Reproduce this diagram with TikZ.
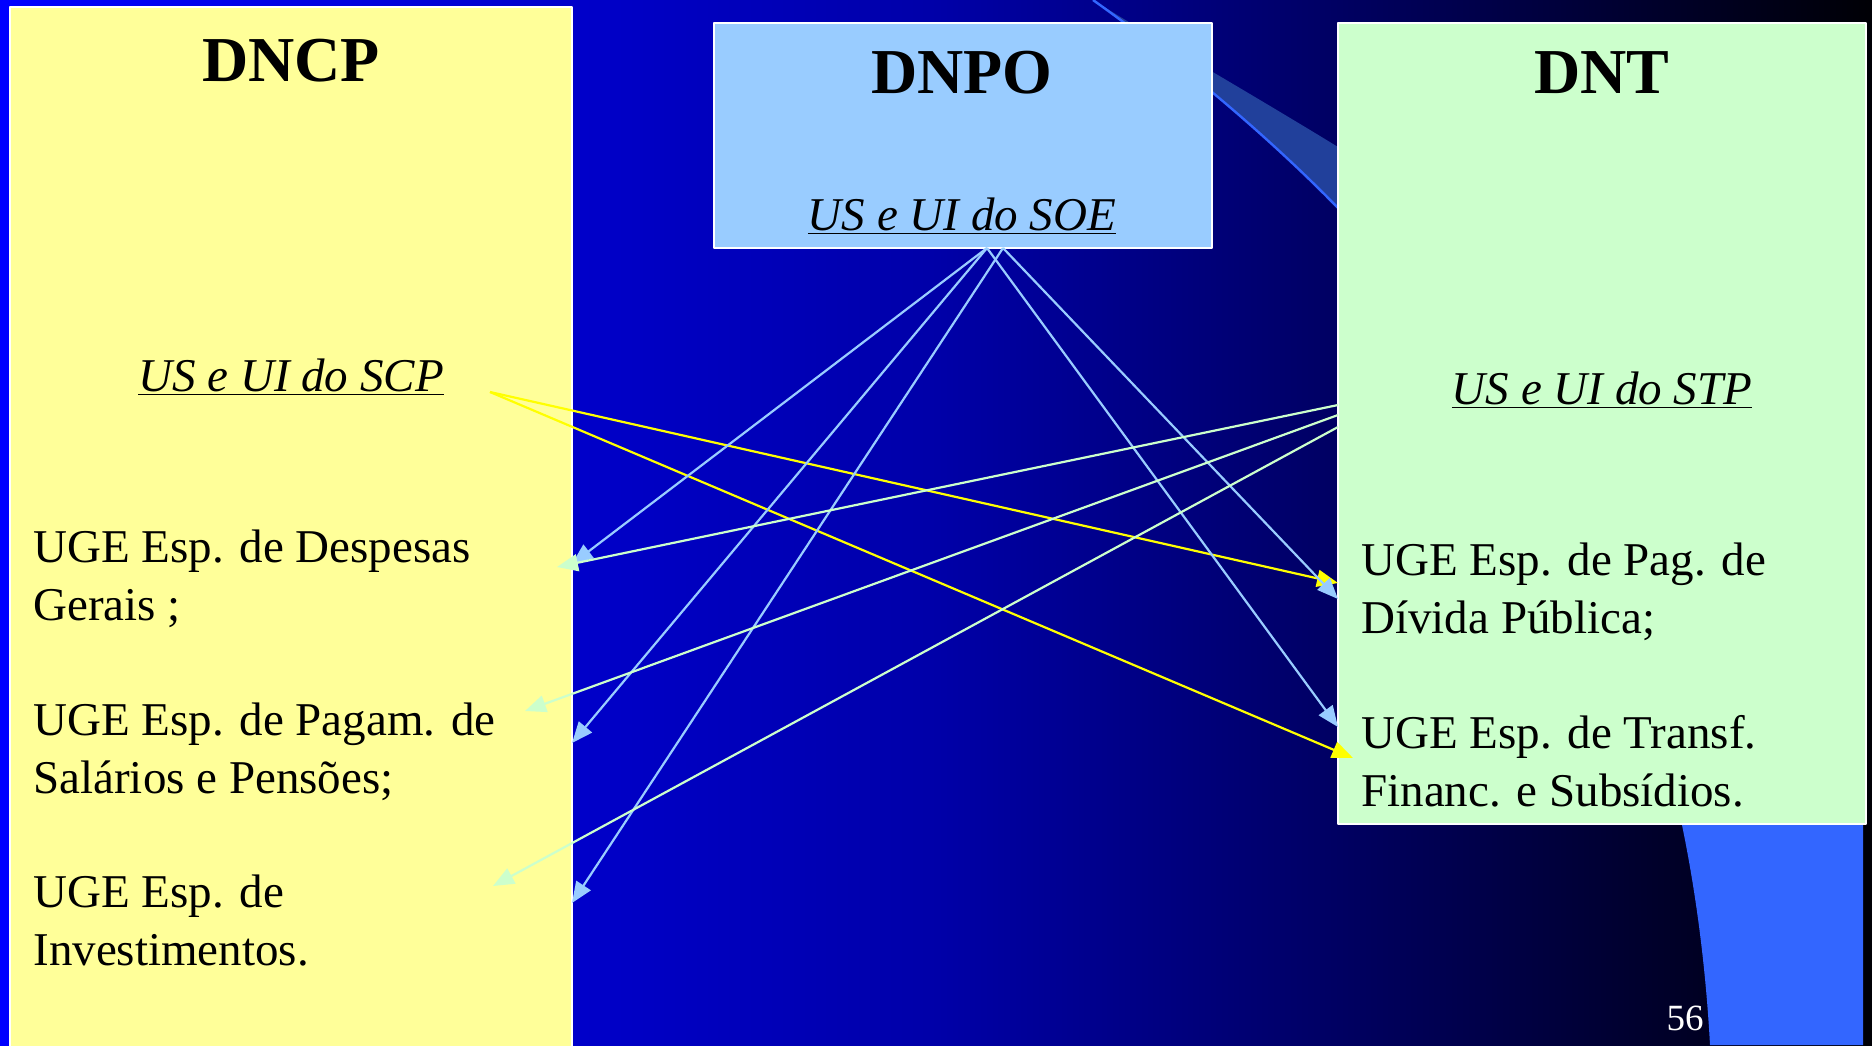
\documentclass[tikz,border=0pt]{standalone}
\usepackage{fontspec}
\setmainfont{Liberation Serif}
\usetikzlibrary{arrows.meta}

\definecolor{dncpfill}{HTML}{FFFF99}
\definecolor{dnpofill}{HTML}{99CCFF}
\definecolor{dntfill}{HTML}{CCFFCC}
\definecolor{scpflow}{HTML}{FFFF00}
\definecolor{soeflow}{HTML}{99CCFF}
\definecolor{stpflow}{HTML}{CCFFCC}
\definecolor{swoosh}{HTML}{3366FF}
\definecolor{swooshband}{HTML}{21409B}
\definecolor{bgleft}{rgb}{0,0,1}
\definecolor{bgmid}{rgb}{0,0,0.66}
\definecolor{bgright}{rgb}{0,0,0.02}

\tikzset{
  box/.style={draw=white, line width=1pt},
  title/.style={anchor=base, inner sep=0pt, font=\fontsize{32}{38}\selectfont\bfseries},
  sysname/.style={anchor=base, inner sep=0pt, font=\fontsize{23.5}{28.75}\selectfont\itshape},
  uge/.style={anchor=base west, inner sep=0pt, align=left, font=\fontsize{23.5}{28.75}\selectfont},
  flow/.style={line width=1.1pt, -{Triangle[length=10.5pt,width=8.5pt]}},
}

\begin{document}
\begin{tikzpicture}[x=0.5pt, y=-0.5pt, line join=round]
        % slide frame, in pixels, y pointing down
        \useasboundingbox (0,0) rectangle (1872,1045);
        \shade[left color=bgleft, right color=bgright, middle color=bgmid] (0,0) rectangle (1872,1045);

        % decoration
        \fill[swoosh] (1676,790) -- (1682,825) .. controls (1697,898) and (1706,972) .. (1710,1045)
            -- (1863,1045) -- (1863,790) -- cycle;
        \fill[swooshband] (1093,0) .. controls (1150,36) and (1250,93) .. (1338,147)
            -- (1338,208) .. controls (1270,138) and (1180,62) .. (1093,0) -- cycle;
        \draw[swoosh, line width=1.2pt] (1093,0) .. controls (1180,62) and (1270,138) .. (1338,208);

        % the three boxes
        \draw[box, fill=dncpfill] (10,7) rectangle (572,1060);
        \draw[box, fill=dnpofill] (714,23) rectangle (1212,248);
        \draw[box, fill=dntfill] (1338,23) rectangle (1866,824);

        % titles
        \node[title] (dncp) at (291,81) {DNCP};
        \node[title] (dnpo) at (962,93) {DNPO};
        \node[title] (dnt)  at (1602,93) {DNT};

        \node[sysname] (soe) at (962,230) {\underline{US e UI do SOE}};
        \node[sysname] (scp) at (291,391) {\underline{US e UI do SCP}};
        \node[sysname] (stp) at (1602,404) {\underline{US e UI do STP}};

        % units (base = baseline of the last line)
        \node[uge] (despesas) at (33,620) {UGE Esp. de Despesas\\Gerais ;};
        \node[uge] (pagam)    at (33,793) {UGE Esp. de Pagam. de\\Salários e Pensões;};
        \node[uge] (invest)   at (33,965) {UGE Esp. de\\Investimentos.};
        \node[uge] (divida)   at (1361,633) {UGE Esp. de Pag. de\\Dívida Pública;};
        \node[uge] (transf)   at (1361,806) {UGE Esp. de Transf.\\Financ. e Subsídios.};

        % connector ends
        \coordinate (scpout) at (490,392);
        \coordinate (soeouta) at (987,248);
        \coordinate (soeoutb) at (1003,248);
        \coordinate (stpouta) at (1338,405);
        \coordinate (stpoutb) at (1338,415);
        \coordinate (stpoutc) at (1338,427);

        \coordinate (despin) at (572,564);
        \coordinate (pagamin) at (572,743);
        \coordinate (investin) at (572,903);
        \coordinate (despinb) at (557,567);
        \coordinate (pagaminb) at (525,711);
        \coordinate (investinb) at (493,886);
        \coordinate (dividain) at (1338,583);
        \coordinate (dividainb) at (1338,599);
        \coordinate (transfin) at (1353,758);
        \coordinate (transfinb) at (1338,727);

        % SCP
        \foreach \t in {dividain, transfin}{
            \draw[flow, scpflow] (scpout) -- (\t);
        }

        % SOE
        \foreach \t in {despin, pagamin, transfinb}{
            \draw[flow, soeflow] (soeouta) -- (\t);
        }
        \foreach \t in {investin, dividainb}{
            \draw[flow, soeflow] (soeoutb) -- (\t);
        }

        % STP
        \draw[flow, stpflow] (stpouta) -- (despinb);
        \draw[flow, stpflow] (stpoutb) -- (pagaminb);
        \draw[flow, stpflow] (stpoutc) -- (investinb);

        \node[anchor=base, inner sep=0pt, text=white, font=\fontsize{18.5}{22}\selectfont] (page) at (1685,1030) {56};
    \end{tikzpicture}
\end{document}
